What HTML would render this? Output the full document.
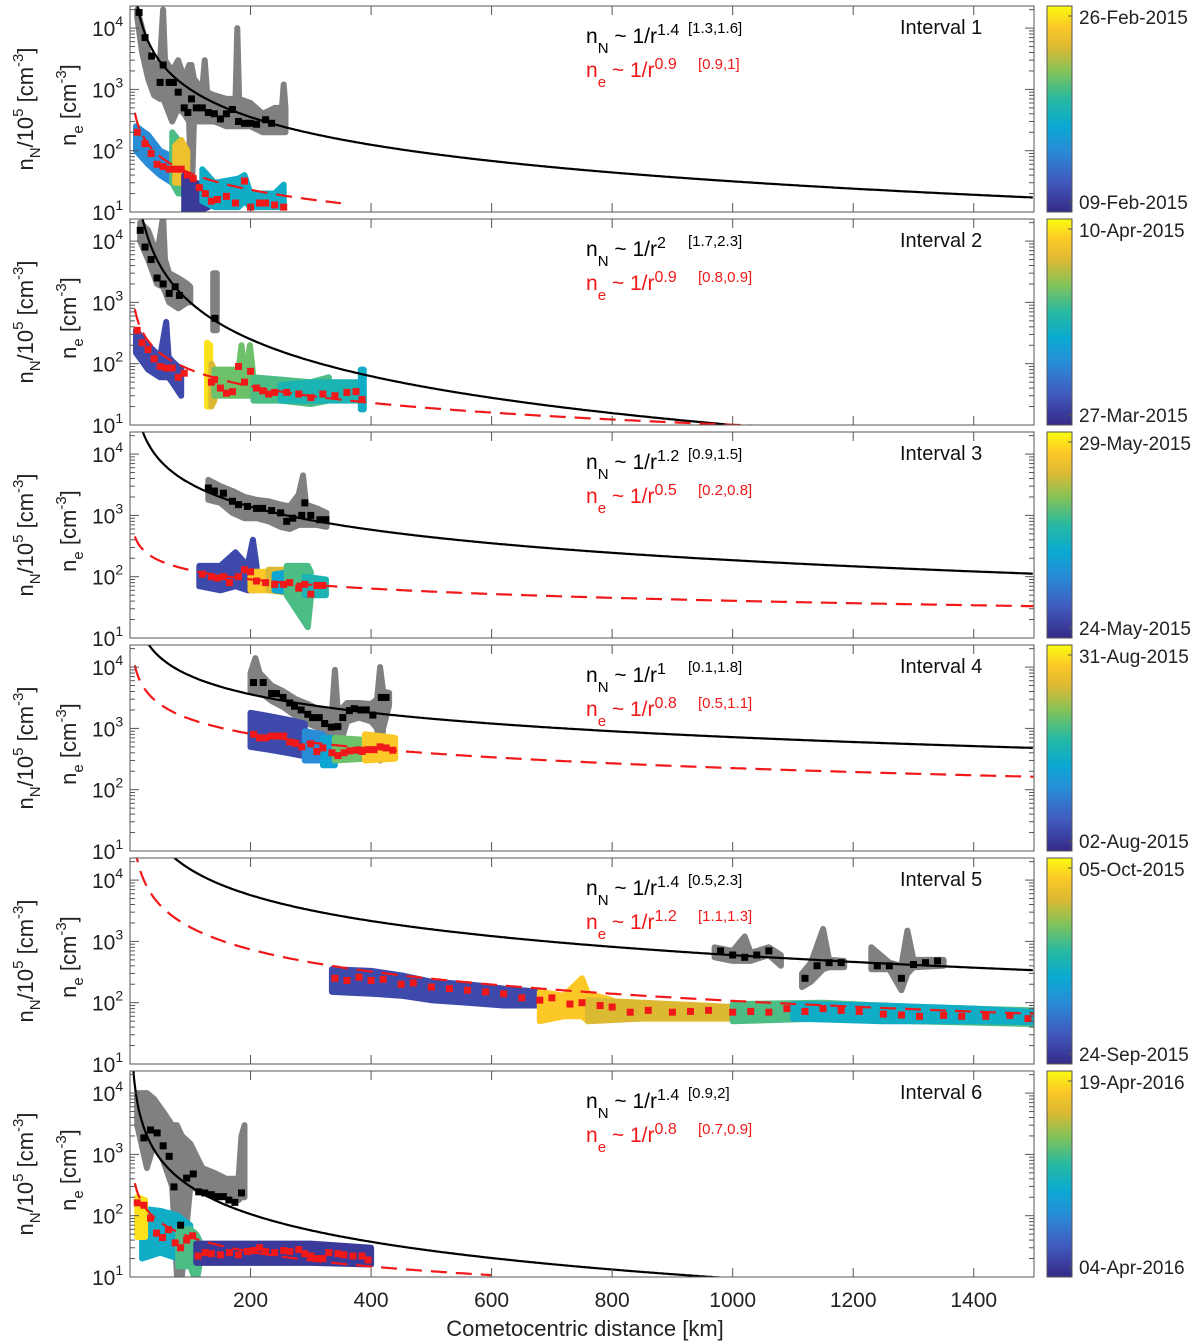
<!DOCTYPE html>
<html><head><meta charset="utf-8">
<style>
html,body{margin:0;padding:0;background:#fff;}
svg{display:block;font-family:"Liberation Sans",Arial,sans-serif;}
</style></head>
<body>
<svg id="chart" width="1200" height="1343" viewBox="0 0 1200 1343" xmlns="http://www.w3.org/2000/svg"></svg>
<script>
// ===== data =====
const xTicks = [200,400,600,800,1000,1200,1400];
const yTickExp = [1,2,3,4];
const intervalLabels = ["Interval 1","Interval 2","Interval 3","Interval 4","Interval 5","Interval 6"];
const dateTop = ["26-Feb-2015","10-Apr-2015","29-May-2015","31-Aug-2015","05-Oct-2015","19-Apr-2016"];
const dateBottom = ["09-Feb-2015","27-Mar-2015","24-May-2015","02-Aug-2015","24-Sep-2015","04-Apr-2016"];
const expN = ["1.4","2","1.2","1","1.4","1.4"];
const ciN = ["[1.3,1.6]","[1.7,2.3]","[0.9,1.5]","[0.1,1.8]","[0.5,2.3]","[0.9,2]"];
const expE = ["0.9","0.9","0.5","0.8","1.2","0.8"];
const ciE = ["[0.9,1]","[0.8,0.9]","[0.2,0.8]","[0.5,1.1]","[1.1,1.3]","[0.7,0.9]"];
// fit curves: exponent (visual) and value at r=100 km
const fitNp = [1.5,2.0,1.25,1.0,1.4,1.5];
const fitN100 = [1000,1000,3300,7200,15000,300];
const fitEp = [0.9,0.9,0.5,0.8,1.2,0.8];
const fitE100 = [43,80,128,1420,1700,45];
const fitEend = [350,1500,1500,1500,1500,600];

// gray neutral density bands: [r, lo, hi]
const grayN = [
 [[12,15000,20000],[20,4000,10000],[30,1500,4000],[40,800,2500],[50,700,3000],[55,700,20000],[58,600,3000],[70,300,2000],[80,500,3000],[90,400,1500],[98,300,2500],[102,12,2500],[106,300,1500],[120,300,1000],[124,300,3000],[128,300,900],[140,300,800],[160,250,700],[175,250,700],[178,250,10000],[181,250,700],[200,250,600],[220,200,400],[240,200,500],[252,200,500],[255,200,1200],[258,200,500]],
 [[17,10000,20000],[30,5000,15000],[45,2000,6000],[55,1800,25000],[58,1500,5000],[65,1000,3000],[80,800,2500],[95,1000,2000],[100,1000,1800]],
 [[130,1800,3800],[150,1600,3000],[170,1100,2500],[190,900,2000],[210,900,1800],[230,800,1700],[250,650,1500],[265,600,1400],[280,700,2200],[287,700,4500],[292,700,1500],[310,700,1300],[326,650,1100]],
 [[200,4000,8000],[208,4000,14000],[215,4000,8000],[235,2800,5000],[255,2200,4000],[275,1600,3000],[295,1200,2500],[315,1000,2000],[335,700,1800],[340,300,9000],[345,400,1800],[360,1300,2600],[380,1500,2600],[400,1300,2500],[410,1000,3000],[415,300,10000],[420,1000,4000],[430,2400,3800]],
 [[970,550,800],[1000,480,700],[1020,480,1200],[1030,480,650],[1060,600,800],[1080,400,600]],
 [[12,3000,10000],[28,600,10000],[40,1500,8000],[55,800,5000],[70,300,3000],[78,10,3000],[86,10,2000],[100,300,1500],[120,250,600],[140,200,500],[160,200,400],[180,180,400],[185,200,2000],[190,200,3000]]
];
const grayExtra = [[], [[[138,350,3000],[144,350,3000]]], [], [], [[[1115,180,300],[1130,220,450],[1150,350,1600],[1160,380,500],[1185,380,480]],[[1230,350,800],[1260,350,450],[1280,160,400],[1290,300,1500],[1300,380,500],[1350,400,500]]], []];

// black squares (neutral, binned)
const blackSq = [
 [[15,18000],[25,7000],[36,3500],[50,1300],[55,2500],[65,1300],[72,1300],[80,900],[90,500],[96,420],[102,700],[110,500],[120,500],[130,420],[140,400],[150,330],[160,400],[170,470],[180,300],[190,280],[200,280],[210,270],[225,320],[235,280]],
 [[17,15000],[25,8000],[35,5000],[45,2500],[55,2000],[65,1400],[75,1800],[82,1300],[141,550]],
 [[130,2800],[140,2500],[155,2300],[170,1700],[180,1500],[195,1400],[210,1300],[220,1300],[235,1200],[250,1100],[260,800],[270,900],[285,1000],[290,1600],[300,1000],[315,850],[325,850]],
 [[205,5600],[221,5600],[235,3700],[243,3700],[254,3200],[265,2600],[273,2300],[284,2000],[295,1700],[303,1500],[314,1500],[323,1200],[334,1050],[345,1070],[353,1500],[364,1950],[372,2100],[383,2000],[392,2000],[403,1650],[417,3200],[425,3200]],
 [[980,700],[1000,600],[1020,550],[1040,600],[1060,700],[1120,250],[1140,400],[1160,450],[1180,450],[1240,400],[1260,400],[1280,250],[1300,420],[1320,450],[1340,480]],
 [[23,1860],[34,2500],[45,2240],[55,1380],[65,930],[73,295],[84,70],[94,410],[105,480],[114,245],[124,235],[135,220],[145,205],[155,205],[164,180],[174,165],[185,235]]
];

// coloured electron density segments: t (0..1 colour), [r, lo, hi]
const colSeg = [
 [[0.3,[[10,100,250],[30,60,180],[50,40,100],[70,30,80]]],[0.6,[[70,30,200],[80,20,150],[90,20,60]]],[0.85,[[75,30,120],[85,30,150],[95,25,100]]],[0.05,[[90,10,40],[110,10,30],[130,12,25]]],[0.45,[[120,15,50],[140,12,30],[180,12,35],[190,15,40],[200,12,20],[240,12,20],[255,12,28]]]],
 [[0.1,[[10,150,350],[30,80,200],[50,60,130],[60,60,480],[64,60,130],[70,50,110],[85,30,80]]],[0.95,[[128,20,220],[133,20,200]]],[0.8,[[135,20,100],[140,25,80]]],[0.65,[[140,30,80],[180,30,80],[185,30,200],[192,30,60],[199,30,200],[205,30,60]]],[0.6,[[205,25,60],[250,25,55],[300,22,50],[330,25,60]]],[0.5,[[250,25,45],[300,25,50],[380,25,50]]],[0.45,[[383,18,80],[388,18,80]]]],
 [[0.1,[[115,70,150],[150,60,150],[175,70,250],[195,60,150],[204,60,400],[210,60,150]]],[0.9,[[200,60,120],[230,60,120]]],[0.8,[[230,60,130],[260,55,130]]],[0.4,[[240,60,110],[270,55,120]]],[0.6,[[260,50,150],[295,15,150],[300,45,120]]],[0.5,[[290,50,100],[325,50,90]]]],
 [[0.1,[[200,500,1800],[230,450,1600],[260,400,1400],[290,350,1200]]],[0.3,[[290,300,900],[320,300,800]]],[0.4,[[320,250,700],[340,250,700]]],[0.65,[[340,300,700],[390,320,650]]],[0.9,[[390,300,800],[440,320,700]]]],
 [[0.1,[[335,150,350],[400,140,330],[450,130,280],[500,110,220],[560,100,200],[620,90,170],[680,90,150]]],[0.9,[[680,50,150],[720,60,130],[750,60,250],[760,50,140],[800,60,110]]],[0.8,[[760,50,110],[850,55,100],[950,55,90],[1000,55,85]]],[0.6,[[1000,50,95],[1150,55,100],[1300,50,85],[1500,45,75]]],[0.45,[[1100,55,95],[1250,50,90],[1400,50,80],[1500,48,70]]]],
 [[0.45,[[20,20,130],[50,25,120],[80,20,100],[100,20,70]]],[0.95,[[12,45,200],[25,45,180]]],[0.6,[[80,15,60],[100,15,60],[110,8,50],[115,15,40]]],[0.05,[[110,17,35],[200,17,35],[300,17,35],[400,16,30]]]]
];

// red squares (electrons, binned)
const redSq = [
 [[12,200],[25,130],[35,90],[45,60],[55,55],[65,50],[75,50],[85,50],[95,40],[105,35],[115,25],[125,20],[135,15],[145,16],[160,18],[175,14],[190,32],[200,12],[215,14],[225,14],[240,13],[255,12]],
 [[12,350],[20,220],[30,170],[40,120],[50,90],[60,85],[70,85],[80,60],[90,70],[135,50],[140,55],[150,40],[160,33],[170,35],[180,90],[190,50],[200,75],[210,40],[220,36],[230,32],[240,34],[260,34],[280,32],[300,28],[320,32],[340,30],[360,34],[375,35],[385,26]],
 [[120,110],[135,100],[145,95],[155,100],[165,80],[180,100],[190,130],[200,120],[210,85],[225,80],[240,75],[255,75],[265,80],[280,65],[290,75],[300,52],[310,72],[320,72]],
 [[205,800],[215,700],[225,700],[235,750],[245,750],[255,750],[265,600],[275,570],[285,500],[300,560],[310,420],[320,480],[335,400],[345,360],[355,400],[365,430],[375,440],[385,420],[395,450],[405,450],[415,500],[425,480],[436,440]],
 [[340,250],[360,230],[380,260],[400,230],[420,240],[450,200],[470,210],[500,180],[530,170],[560,160],[590,150],[620,140],[650,120],[680,110],[700,120],[730,95],[750,100],[780,90],[800,85],[830,70],[860,75],[900,70],[930,72],[960,75],[1000,70],[1030,72],[1060,70],[1090,80],[1120,72],[1150,80],[1180,75],[1210,72],[1250,65],[1280,63],[1310,60],[1350,62],[1380,60],[1420,60],[1460,62],[1490,55]],
 [[12,162],[23,148],[34,91],[44,52],[54,44],[64,59],[75,36],[84,30],[94,40],[104,47],[113,22],[125,25],[135,24],[150,23],[165,25],[180,23],[195,26],[205,27],[215,30],[225,26],[240,25],[255,27],[265,26],[280,28],[290,24],[300,22],[310,20],[320,20],[330,25],[345,24],[355,23],[370,22],[385,22],[395,19]]
];

// ===== drawing =====
const NS="http://www.w3.org/2000/svg";
const svg=document.getElementById('chart');
const X0=130, X1=1034, PW=X1-X0, PH=206, DEC=61.3;
const panelTop=[6,219,432,645,858,1071];
function xs(r){return X0 + r/1500*PW;}
function mk(tag,attrs,parent){const e=document.createElementNS(NS,tag);for(const k in attrs)e.setAttribute(k,attrs[k]);(parent||svg).appendChild(e);return e;}
const parStops=[[0,[53,42,135]],[0.15,[65,90,190]],[0.3,[40,140,215]],[0.42,[10,170,210]],[0.55,[40,185,160]],[0.68,[130,195,90]],[0.8,[220,185,50]],[0.9,[252,200,40]],[1,[249,251,14]]];
function parula(t){for(let i=1;i<parStops.length;i++){if(t<=parStops[i][0]){const a=parStops[i-1],b=parStops[i];const f=(t-a[0])/(b[0]-a[0]);const c=a[1].map((v,j)=>Math.round(v+(b[1][j]-v)*f));return `rgb(${c[0]},${c[1]},${c[2]})`;}}return 'rgb(249,251,14)';}
const defs=mk('defs',{});
const grad=mk('linearGradient',{id:'parula',x1:0,y1:1,x2:0,y2:0},defs);
parStops.forEach(s=>mk('stop',{offset:s[0],'stop-color':`rgb(${s[1].join(',')})`},grad));

function band(g,pts,ys,color){
  let d='M'+pts.map(p=>xs(p[0]).toFixed(1)+','+ys(p[2]).toFixed(1)).join('L');
  d+='L'+pts.slice().reverse().map(p=>xs(p[0]).toFixed(1)+','+ys(p[1]).toFixed(1)).join('L')+'Z';
  return mk('path',{d:d,fill:color,stroke:color,'stroke-width':6,'stroke-linejoin':'round'},g);
}
function curve(g,p,n100,rStart,rEnd,ys,attrs){
  let d='';
  for(let r=rStart;r<=rEnd;r+=3){const v=n100*Math.pow(100/r,p);const y=ys(v);d+=(d?'L':'M')+xs(r).toFixed(1)+','+y.toFixed(1);}
  return mk('path',Object.assign({d:d,fill:'none'},attrs),g);
}
function sup(t,parent,txt,dy,size){const s=mk('tspan',{dy:dy,'font-size':size},t);s.textContent=txt;return s;}

for(let i=0;i<6;i++){
  const top=panelTop[i], bot=top+PH;
  const ys=v=>bot-(Math.log10(v)-1)*DEC;
  const g=mk('g',{});
  
  
  mk('clipPath',{id:'clip'+i},defs);
  mk('rect',{x:X0,y:top,width:PW,height:PH},document.getElementById('clip'+i));
  const pg=mk('g',{'clip-path':`url(#clip${i})`},g);
  const gb=band(pg,grayN[i],ys,'#808080');
  
  
  grayExtra[i].forEach(seg=>{const e=band(pg,seg,ys,'#808080');
    
    });
  colSeg[i].forEach(seg=>{const e=band(pg,seg[1],ys,parula(seg[0]));
    
    });
  const fn=curve(pg,fitNp[i],fitN100[i],4,1500,ys,{stroke:'#000','stroke-width':2.2});
  
  
  const fe=curve(pg,fitEp[i],fitE100[i],8,fitEend[i],ys,{stroke:'#f01818','stroke-width':2.2,'stroke-dasharray':'16 9'});
  
  
  blackSq[i].forEach(p=>{const e=mk('rect',{x:xs(p[0])-3.5,y:ys(p[1])-3.5,width:7,height:7,fill:'#000'},pg);
    
    });
  redSq[i].forEach(p=>{const e=mk('rect',{x:xs(p[0])-3.5,y:ys(p[1])-3.5,width:7,height:7,fill:'#f01818'},pg);
    
    });
  const fr=mk('rect',{x:X0,y:top,width:PW,height:PH,fill:'none',stroke:'#555','stroke-width':1},g);
  
  
  xTicks.forEach(t=>{const x=xs(t);
    mk('line',{x1:x,y1:bot,x2:x,y2:bot-9,stroke:'#555','stroke-width':1},g);
    mk('line',{x1:x,y1:top,x2:x,y2:top+9,stroke:'#555','stroke-width':1},g);});
  for(let e=1;e<=4;e++){for(let m=1;m<=9;m++){const v=m*Math.pow(10,e);const y=ys(v);if(y<top)continue;
    const L=m===1?9:5;
    mk('line',{x1:X0,y1:y,x2:X0+L,y2:y,stroke:'#555','stroke-width':1},g);
    mk('line',{x1:X1,y1:y,x2:X1-L,y2:y,stroke:'#555','stroke-width':1},g);}}
  yTickExp.forEach(e=>{const y=ys(Math.pow(10,e));
    const t=mk('text',{x:92,y:y+8,'font-size':21,fill:'#222'},g);
    
    
    t.appendChild(document.createTextNode('10'));sup(t,t,String(e),-10,14);});
  const cy=top+PH/2;
  const t1=mk('text',{x:0,y:0,'font-size':22,fill:'#222','text-anchor':'middle',transform:`translate(33,${cy}) rotate(-90)`},g);
  
  
  t1.appendChild(document.createTextNode('n'));sup(t1,t1,'N',7,15);
  const tt=mk('tspan',{dy:-7,'font-size':22},t1);tt.textContent='/10';
  sup(t1,t1,'5',-10,15);const tt2=mk('tspan',{dy:10,'font-size':22},t1);tt2.textContent=' [cm';
  sup(t1,t1,'-3',-10,15);const tt3=mk('tspan',{dy:10,'font-size':22},t1);tt3.textContent=']';
  const t2=mk('text',{x:0,y:0,'font-size':22,fill:'#222','text-anchor':'middle',transform:`translate(76,${cy-4}) rotate(-90)`},g);
  
  
  t2.appendChild(document.createTextNode('n'));sup(t2,t2,'e',7,15);
  const u=mk('tspan',{dy:-7,'font-size':22},t2);u.textContent=' [cm';
  sup(t2,t2,'-3',-10,15);const u2=mk('tspan',{dy:10,'font-size':22},t2);u2.textContent=']';
  const a1=mk('text',{x:586,y:top+37,'font-size':21,fill:'#000'},g);
  
  
  a1.appendChild(document.createTextNode('n'));sup(a1,a1,'N',10,15);
  const a1b=mk('tspan',{dy:-10},a1);a1b.textContent=' ~ 1/r';
  sup(a1,a1,expN[i],-8,16);
  const c1=mk('text',{x:688,y:top+27,'font-size':15,fill:'#000'},g);c1.textContent=ciN[i];
  
  
  const a2=mk('text',{x:586,y:top+71,'font-size':21,fill:'#f01818'},g);
  
  
  a2.appendChild(document.createTextNode('n'));sup(a2,a2,'e',10,15);
  const a2b=mk('tspan',{dy:-10},a2);a2b.textContent=' ~ 1/r';
  sup(a2,a2,expE[i],-8,16);
  const c2=mk('text',{x:698,y:top+63,'font-size':15,fill:'#f01818'},g);c2.textContent=ciE[i];
  
  
  const il=mk('text',{x:900,y:top+28,'font-size':20,fill:'#111'},g);il.textContent=intervalLabels[i];
  
  
  const cb=mk('rect',{x:1047,y:top,width:25,height:PH,fill:'url(#parula)',stroke:'#555','stroke-width':1},g);
  
  
  mk('line',{x1:1072,y1:top+10,x2:1068,y2:top+10,stroke:'#555'},g);
  mk('line',{x1:1072,y1:bot-10,x2:1068,y2:bot-10,stroke:'#555'},g);
  const d1=mk('text',{x:1079,y:top+18,'font-size':19,fill:'#222'},g);d1.textContent=dateTop[i];
  
  
  const d2=mk('text',{x:1079,y:bot-3,'font-size':19,fill:'#222'},g);d2.textContent=dateBottom[i];
  
  
}
xTicks.forEach(t=>{const e=mk('text',{x:xs(t),y:1307,'font-size':21,fill:'#222','text-anchor':'middle'});e.textContent=String(t);
  
  });
const xt=mk('text',{x:585,y:1336,'font-size':22,fill:'#222','text-anchor':'middle'});xt.textContent='Cometocentric distance [km]';


</script>
</body></html>
